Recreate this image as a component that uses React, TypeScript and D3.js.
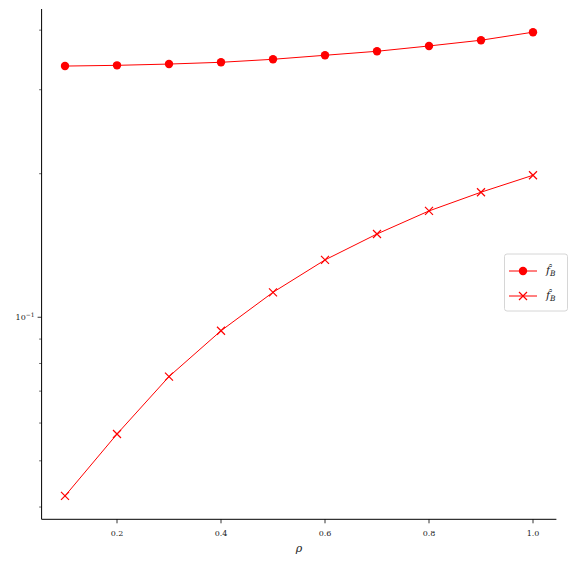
import React, { useEffect, useRef } from 'react';
import * as d3 from 'd3';

// rho values on the x axis
const rho = [0.1, 0.2, 0.3, 0.4, 0.5, 0.6, 0.7, 0.8, 0.9, 1.0];
// first series (circle markers)
const fCircle = [0.3363, 0.3375, 0.3396, 0.3425, 0.3475, 0.3543, 0.3612, 0.3706, 0.381, 0.3961];
// second series (cross markers)
const fCross = [0.0422, 0.0569, 0.0751, 0.0937, 0.1128, 0.1319, 0.1495, 0.1671, 0.1829, 0.1985];
const xTicks = [0.2, 0.4, 0.6, 0.8, 1.0];
const yMinorTicks = [0.04, 0.05, 0.06, 0.07, 0.08, 0.09, 0.2, 0.3, 0.4];

const W = 574;
const H = 566;

export default function App() {
  const svgRef = useRef<SVGSVGElement>(null);

  useEffect(() => {
    if (!svgRef.current) return;
    const svg = d3.select(svgRef.current);
    svg.selectAll('*').remove();

    const left = 41.6, right = 556.4, top = 9, bottom = 519.3;
    const red = '#ff0000';
    const font = 'DejaVu Serif, serif';

    const x = d3.scaleLinear().domain([0.055, 1.045]).range([left, right]);
    const y = d3.scaleLog().domain([0.0377, 0.443]).range([bottom, top]);

    const g = svg.append('g');

    // spines
    g.append('line').attr('x1', left).attr('x2', left).attr('y1', top).attr('y2', bottom)
      .attr('stroke', '#000').attr('stroke-width', 1);
    g.append('line').attr('x1', left).attr('x2', right).attr('y1', bottom).attr('y2', bottom)
      .attr('stroke', '#000').attr('stroke-width', 1);

    // x ticks
    xTicks.forEach(t => {
      g.append('line').attr('x1', x(t)).attr('x2', x(t)).attr('y1', bottom).attr('y2', bottom + 4)
        .attr('stroke', '#000').attr('stroke-width', 0.8);
      g.append('text').attr('x', x(t)).attr('y', bottom + 16.5).attr('text-anchor', 'middle')
        .attr('font-family', font).attr('font-size', 8).attr('fill', '#222').text(t.toFixed(1));
    });
    g.append('text').attr('x', (left + right) / 2).attr('y', bottom + 33).attr('text-anchor', 'middle')
      .attr('font-family', font).attr('font-style', 'italic').attr('font-size', 11).attr('fill', '#222').text('ρ');

    // y ticks (log)
    g.append('line').attr('x1', left - 4).attr('x2', left).attr('y1', y(0.1)).attr('y2', y(0.1))
      .attr('stroke', '#000').attr('stroke-width', 0.8);
    const lab = g.append('text').attr('x', left - 7).attr('y', y(0.1) + 3).attr('text-anchor', 'end')
      .attr('font-family', font).attr('font-size', 8).attr('fill', '#222');
    lab.append('tspan').text('10');
    lab.append('tspan').attr('dy', -3).attr('font-size', 6).text('−1');
    yMinorTicks.forEach(t => {
      g.append('line').attr('x1', left - 2.5).attr('x2', left).attr('y1', y(t)).attr('y2', y(t))
        .attr('stroke', '#000').attr('stroke-width', 0.6);
    });

    const line = d3.line<number>().x((_, i) => x(rho[i])).y(d => y(d));

    // circle series
    g.append('path').datum(fCircle).attr('d', line).attr('fill', 'none').attr('stroke', red).attr('stroke-width', 1);
    fCircle.forEach((v, i) => {
      g.append('circle').attr('cx', x(rho[i])).attr('cy', y(v)).attr('r', 4.2).attr('fill', red);
    });

    // cross series
    g.append('path').datum(fCross).attr('d', line).attr('fill', 'none').attr('stroke', red).attr('stroke-width', 1);
    const cross = (cx: number, cy: number, s: number) =>
      `M${cx - s},${cy - s}L${cx + s},${cy + s}M${cx - s},${cy + s}L${cx + s},${cy - s}`;
    fCross.forEach((v, i) => {
      g.append('path').attr('d', cross(x(rho[i]), y(v), 4)).attr('stroke', red).attr('stroke-width', 1.2).attr('fill', 'none');
    });

    // legend
    const lg = g.append('g');
    lg.append('rect').attr('x', 504.5).attr('y', 254).attr('width', 63).attr('height', 57).attr('rx', 2.5)
      .attr('fill', '#fff').attr('fill-opacity', 0.8).attr('stroke', '#cccccc').attr('stroke-width', 0.8);
    const rows = [271, 296];
    rows.forEach((ry, k) => {
      lg.append('line').attr('x1', 509).attr('x2', 537).attr('y1', ry).attr('y2', ry).attr('stroke', red).attr('stroke-width', 1);
      if (k === 0) lg.append('circle').attr('cx', 523).attr('cy', ry).attr('r', 4.2).attr('fill', red);
      else lg.append('path').attr('d', cross(523, ry, 4)).attr('stroke', red).attr('stroke-width', 1.2);
      const t = lg.append('text').attr('x', 546).attr('y', ry + 3).attr('font-family', font)
        .attr('font-size', 11).attr('fill', '#222');
      t.append('tspan').attr('font-style', 'italic').text('f̂');
      t.append('tspan').attr('font-style', 'italic').attr('font-size', 7.5).attr('dy', 2).text('B');
    });
  }, []);

  return (
    <svg ref={svgRef} width={W} height={H}
      style={{ position: 'absolute', left: 0, top: 0, background: '#fff' }} />
  );
}
